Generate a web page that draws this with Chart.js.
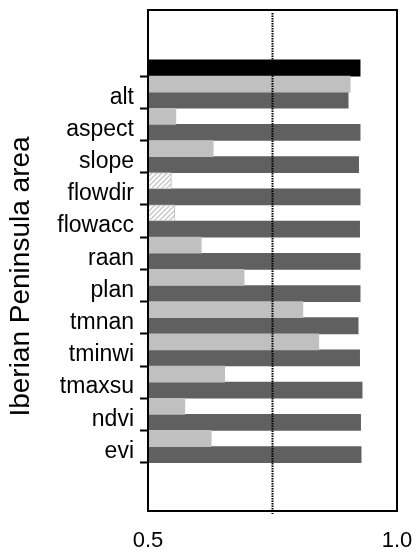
<!DOCTYPE html>
<html><head><meta charset="utf-8">
<script src="https://cdn.jsdelivr.net/npm/chart.js@4.4.1/dist/chart.umd.min.js"></script>
<style>html,body{margin:0;padding:0;background:#fff}#wrap{width:417px;height:553px}</style>
</head><body><div id="wrap"><canvas id="c"></canvas></div>
<script>
// ---- data ----
const categories = ['', 'alt', 'aspect', 'slope', 'flowdir', 'flowacc', 'raan', 'plan', 'tmnan', 'tminwi', 'tmaxsu', 'ndvi', 'evi'];
const lightValues = [null, 0.906, 0.556, 0.631, 0.547, 0.554, 0.607, 0.693, 0.811, 0.843, 0.654, 0.574, 0.627];
const darkValues = [0.926, 0.902, 0.926, 0.923, 0.926, 0.925, 0.926, 0.926, 0.922, 0.925, 0.930, 0.927, 0.928];
const xTickValues = [0.5, 1.0];
const threshold = 0.75;
const axisTitle = 'Iberian Peninsula area';
const hatchedCategories = ['flowdir', 'flowacc'];

// ---- styles ----
const LIGHT = '#c0c0c0', DARK = '#606060', BLACK = '#000000';
const FONT = '"Liberation Sans", Arial, Helvetica, sans-serif';
Chart.defaults.font.family = FONT;

function makeHatch() {
  const c = document.createElement('canvas'); c.width = 5; c.height = 5;
  const g = c.getContext('2d');
  g.fillStyle = '#fff'; g.fillRect(0, 0, 5, 5);
  g.strokeStyle = '#c6c6c6'; g.lineWidth = 1.4;
  g.beginPath();
  g.moveTo(0, 5); g.lineTo(5, 0);
  g.moveTo(-1, 1); g.lineTo(1, -1);
  g.moveTo(4, 6); g.lineTo(6, 4);
  g.stroke();
  return g.createPattern(c, 'repeat');
}
const hatch = makeHatch();
const isHatched = i => hatchedCategories.includes(categories[i]);

const extras = {
  id: 'extras',
  afterDatasetsDraw(chart) {
    const {ctx, chartArea: a, scales: {x}} = chart;
    const px = x.getPixelForValue(threshold);
    ctx.save();
    ctx.strokeStyle = '#000'; ctx.lineWidth = 2; ctx.setLineDash([1.5, 1]);
    ctx.beginPath(); ctx.moveTo(px, a.top + 3); ctx.lineTo(px, a.bottom + 3); ctx.stroke();
    ctx.setLineDash([]);
    ctx.strokeRect(a.left, a.top, a.width, a.height);
    ctx.font = '28px ' + FONT;
    ctx.fillStyle = '#000'; ctx.textAlign = 'center'; ctx.textBaseline = 'alphabetic';
    ctx.translate(29, chart.height / 2); ctx.rotate(-Math.PI / 2);
    ctx.fillText(axisTitle, 0, 0);
    ctx.restore();
  }
};

new Chart(document.getElementById('c'), {
  type: 'bar',
  data: {
    datasets: [
      {
        label: 'light',
        data: categories.map((c, i) => ({y: i, x: lightValues[i]})),
        backgroundColor: ctx => isHatched(ctx.dataIndex) ? hatch : LIGHT,
        borderColor: ctx => isHatched(ctx.dataIndex) ? '#bdbdbd' : LIGHT,
        borderWidth: ctx => isHatched(ctx.dataIndex) ? 1 : 0,
        clip: 0
      },
      {
        label: 'dark',
        data: categories.map((c, i) => ({y: i, x: darkValues[i]})),
        backgroundColor: ctx => ctx.dataIndex === 0 ? BLACK : DARK,
        borderWidth: 0,
        clip: 0
      }
    ]
  },
  options: {
    indexAxis: 'y',
    responsive: true,
    maintainAspectRatio: false,
    animation: false,
    layout: {padding: {top: 10, right: 20, left: 0, bottom: 0}},
    datasets: {bar: {categoryPercentage: 1, barPercentage: 1}},
    plugins: {legend: {display: false}, tooltip: {enabled: false}},
    scales: {
      x: {
        type: 'linear', position: 'bottom', min: 0.5, max: 1.0, offset: false,
        grid: {display: false}, border: {display: false},
        afterBuildTicks: s => { s.ticks = xTickValues.map(v => ({value: v})); },
        afterFit: s => { s.height = 42; s.paddingLeft = 0; s.paddingRight = 0; },
        ticks: {callback: v => Number(v).toFixed(1), font: {size: 22}, color: '#000', padding: 9, maxRotation: 0, autoSkip: false}
      },
      y: {
        type: 'linear', position: 'left', reverse: true, min: -1.55, max: 14, offset: false,
        border: {display: false},
        grid: {
          offset: true, drawOnChartArea: false, drawTicks: true, tickLength: 8, tickWidth: 2,
          tickColor: ctx => ctx.index === 0 ? 'rgba(0,0,0,0)' : '#000'
        },
        afterBuildTicks: s => { s.ticks = categories.map((c, i) => ({value: i})); },
        afterFit: s => { s.width = 148; s.paddingTop = 0; s.paddingBottom = 0; },
        ticks: {callback: (v, i) => categories[i], font: {size: 23}, color: '#000', padding: 6, labelOffset: 5, autoSkip: false}
      }
    }
  },
  plugins: [extras]
});
</script>
</body></html>
